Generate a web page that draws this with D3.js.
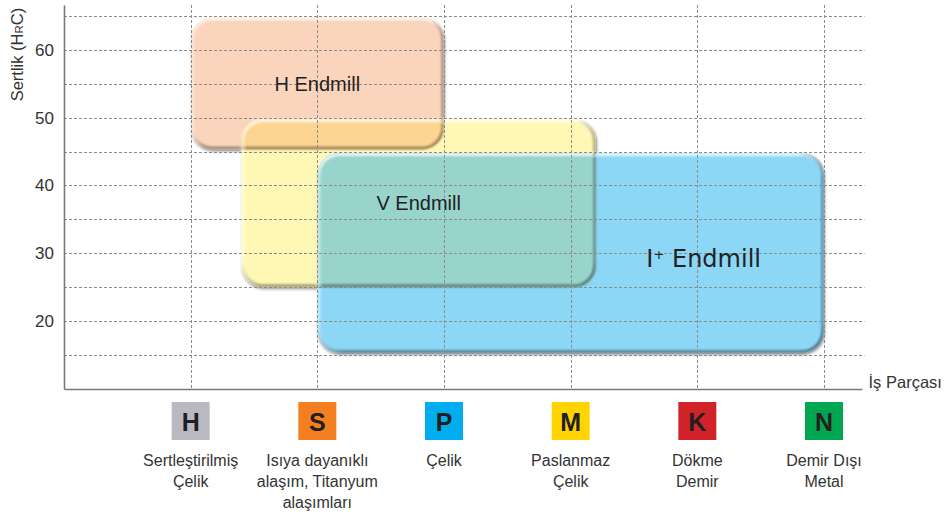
<!DOCTYPE html>
<html>
<head>
<meta charset="utf-8">
<script src="https://cdn.jsdelivr.net/npm/d3@7"></script>
<style>
  body { margin: 0; background: #fff; }
  text { font-family: "Liberation Sans", Arial, sans-serif; fill: #333; }
</style>
</head>
<body>
<div id="chart"></div>
<script>
// workpiece categories (ISO groups) along the x axis
const categories = ["H", "S", "P", "M", "K", "N"];
const categoryColors = ["#b9b9c4", "#f47f20", "#00aeef", "#ffd400", "#d2232a", "#00a651"];
const categoryNames = [
  ["Sertleştirilmiş", "Çelik"],
  ["Isıya dayanıklı", "alaşım, Titanyum", "alaşımları"],
  ["Çelik"],
  ["Paslanmaz", "Çelik"],
  ["Dökme", "Demir"],
  ["Demir Dışı", "Metal"]
];

// hardness ticks (HRC)
const yTicks = [20, 30, 40, 50, 60];
const gridValues = [15, 20, 25, 30, 35, 40, 45, 50, 55, 60, 65];

// endmill ranges: x in category units (H = 1 ... N = 6), y in HRC
const tools = ["H Endmill", "V Endmill", "I+ Endmill"];
const toolX0 = [1, 1.4, 2];
const toolX1 = [3, 4.2, 6];
const toolY0 = [45.3, 25, 15.3];
const toolY1 = [64.8, 49.8, 44.8];
const toolFill = ["#fad5bc", "#fff7b4", "#8dd7f6"];
const labelX = [2, 2.8, 5.05];
const labelY = [55, 37.5, 29.3];

// overlapping areas: [box, clipped by box, colour]
const overlaps = [[1, 0, "#fdd592"], [1, 2, "#98d4cb"]];

const width = 947, height = 516;

const svg = d3.select("#chart")
  .append("svg")
  .attr("width", width)
  .attr("height", height);

let x = d3.scaleLinear()
  .domain([0, 6.3])
  .range([64, 862]);

let y = d3.scaleLinear()
  .domain([10, 66.6])
  .range([389, 5]);

const defs = svg.append("defs");

// soft shadow under the boxes
const shadow = defs.append("filter").attr("id", "shadow")
  .attr("x", "-10%").attr("y", "-10%").attr("width", "120%").attr("height", "125%");
shadow.append("feDropShadow")
  .attr("dx", 1).attr("dy", 2).attr("stdDeviation", 1.5)
  .attr("flood-color", "#000").attr("flood-opacity", 0.35);

const soft = defs.append("filter").attr("id", "soft");
soft.append("feGaussianBlur").attr("stdDeviation", 0.9);

// bevel gradients (top light, bottom dark)
const gv = defs.append("linearGradient").attr("id", "edgeV")
  .attr("x1", 0).attr("y1", 0).attr("x2", 0).attr("y2", 1);
gv.append("stop").attr("offset", "0").attr("stop-color", "#fff").attr("stop-opacity", 0.85);
gv.append("stop").attr("offset", "0.12").attr("stop-color", "#fff").attr("stop-opacity", 0);
gv.append("stop").attr("offset", "0.85").attr("stop-color", "#000").attr("stop-opacity", 0);
gv.append("stop").attr("offset", "1").attr("stop-color", "#000").attr("stop-opacity", 0.38);

const gh = defs.append("linearGradient").attr("id", "edgeH")
  .attr("x1", 0).attr("y1", 0).attr("x2", 1).attr("y2", 0);
gh.append("stop").attr("offset", "0").attr("stop-color", "#fff").attr("stop-opacity", 0.5);
gh.append("stop").attr("offset", "0.05").attr("stop-color", "#fff").attr("stop-opacity", 0);
gh.append("stop").attr("offset", "0.95").attr("stop-color", "#000").attr("stop-opacity", 0);
gh.append("stop").attr("offset", "1").attr("stop-color", "#000").attr("stop-opacity", 0.3);

const boxAttrs = (sel, inset) => sel
  .attr("x", i => x(toolX0[i]) + inset)
  .attr("y", i => y(toolY1[i]) + inset)
  .attr("width", i => x(toolX1[i]) - x(toolX0[i]) - 2 * inset)
  .attr("height", i => y(toolY0[i]) - y(toolY1[i]) - 2 * inset)
  .attr("rx", 22 - inset)
  .attr("ry", 22 - inset);

const idx = d3.range(tools.length);

// clip paths for the overlap colouring
defs.selectAll("clipPath")
  .data(idx)
  .join("clipPath")
  .attr("id", i => "clip" + i)
  .append("rect")
  .call(boxAttrs, 0);

// boxes
svg.append("g")
  .selectAll("rect")
  .data(idx)
  .join("rect")
  .call(boxAttrs, 0)
  .attr("fill", i => toolFill[i])
  .attr("filter", "url(#shadow)");

// overlapping areas
svg.append("g")
  .selectAll("g")
  .data(overlaps)
  .join("g")
  .attr("clip-path", d => `url(#clip${d[1]})`)
  .each(function(d) {
    d3.select(this).append("rect")
      .datum(d[0])
      .call(boxAttrs, 0)
      .attr("fill", d[2]);
  });

// bevel edges
const edges = svg.append("g").attr("filter", "url(#soft)");
edges.selectAll("rect.v")
  .data(idx)
  .join("rect")
  .attr("class", "v")
  .call(boxAttrs, 1.5)
  .attr("fill", "none")
  .attr("stroke", "url(#edgeV)")
  .attr("stroke-width", 3);
edges.selectAll("rect.h")
  .data(idx)
  .join("rect")
  .attr("class", "h")
  .call(boxAttrs, 1.5)
  .attr("fill", "none")
  .attr("stroke", "url(#edgeH)")
  .attr("stroke-width", 3);

// dashed grid on top
const grid = svg.append("g")
  .attr("stroke", "#8c8c8c")
  .attr("stroke-width", 1)
  .attr("stroke-dasharray", "3,2");

grid.selectAll("line.hg")
  .data(gridValues)
  .join("line")
  .attr("class", "hg")
  .attr("x1", x(0)).attr("x2", x(6.32))
  .attr("y1", d => Math.round(y(d)) + 0.5)
  .attr("y2", d => Math.round(y(d)) + 0.5);

grid.selectAll("line.vg")
  .data(categories)
  .join("line")
  .attr("class", "vg")
  .attr("x1", (d, i) => Math.round(x(i + 1)) + 0.5)
  .attr("x2", (d, i) => Math.round(x(i + 1)) + 0.5)
  .attr("y1", y(66.6)).attr("y2", y(10));

// axes
const yAxis = svg.append("g")
  .attr("transform", `translate(${x(0)},0)`)
  .call(d3.axisLeft(y)
    .tickValues(yTicks)
    .tickSize(0)
    .tickPadding(10)
  );

const xAxis = svg.append("g")
  .attr("transform", `translate(0,${y(10)})`)
  .call(d3.axisBottom(x)
    .tickValues([])
    .tickSizeOuter(0)
  );

svg.selectAll(".domain")
  .attr("stroke", "#7a7a7a")
  .attr("stroke-width", 1.6);

yAxis.selectAll(".tick text")
  .attr("fill", "#3a3a3a")
  .style("font-size", "17px")
  .style("font-family", "\"Liberation Sans\", Arial, sans-serif");

// axis titles
const yTitle = svg.append("text")
  .attr("transform", `translate(23,${y(59.3)}) rotate(-90)`)
  .attr("text-anchor", "middle")
  .style("font-size", "16.5px");
yTitle.append("tspan").text("Sertlik (H");
yTitle.append("tspan").style("font-size", "11.5px").text("R");
yTitle.append("tspan").text("C)");

svg.append("text")
  .attr("x", x(6.32) + 4)
  .attr("y", y(10) - 1)
  .style("font-size", "16.5px")
  .text("İş Parçası");

// box labels
const labels = svg.append("g")
  .selectAll("text")
  .data(idx)
  .join("text")
  .attr("x", i => x(labelX[i]))
  .attr("y", i => y(labelY[i]))
  .attr("dy", "0.36em")
  .attr("text-anchor", "middle")
  .attr("fill", "#222")
  .style("fill", "#222")
  .style("font-size", i => i === 2 ? "24px" : "20px")
  .style("font-family", i => i === 2 ? "\"DejaVu Sans\", sans-serif" : null);

labels.each(function(i) {
  const t = d3.select(this);
  if (tools[i].startsWith("I+")) {
    t.append("tspan").text("I");
    t.append("tspan").attr("dy", -8).style("font-size", "13px").text("+");
    t.append("tspan").attr("dy", 8).text(tools[i].slice(2));
  } else {
    t.text(tools[i]);
  }
});

// category legend under the axis
const legend = svg.append("g")
  .selectAll("g")
  .data(categories)
  .join("g")
  .attr("transform", (d, i) => `translate(${x(i + 1)},0)`);

legend.append("rect")
  .attr("x", -19).attr("y", 402)
  .attr("width", 38).attr("height", 38)
  .attr("fill", (d, i) => categoryColors[i]);

legend.append("text")
  .attr("y", 431)
  .attr("text-anchor", "middle")
  .style("font-size", "25px")
  .style("font-weight", "bold")
  .style("fill", "#231f20")
  .text(d => d);

legend.append("text")
  .attr("text-anchor", "middle")
  .style("font-size", "16px")
  .selectAll("tspan")
  .data((d, i) => categoryNames[i])
  .join("tspan")
  .attr("x", 0)
  .attr("y", (d, j) => 466 + j * 21)
  .text(d => d);
</script>
</body>
</html>
